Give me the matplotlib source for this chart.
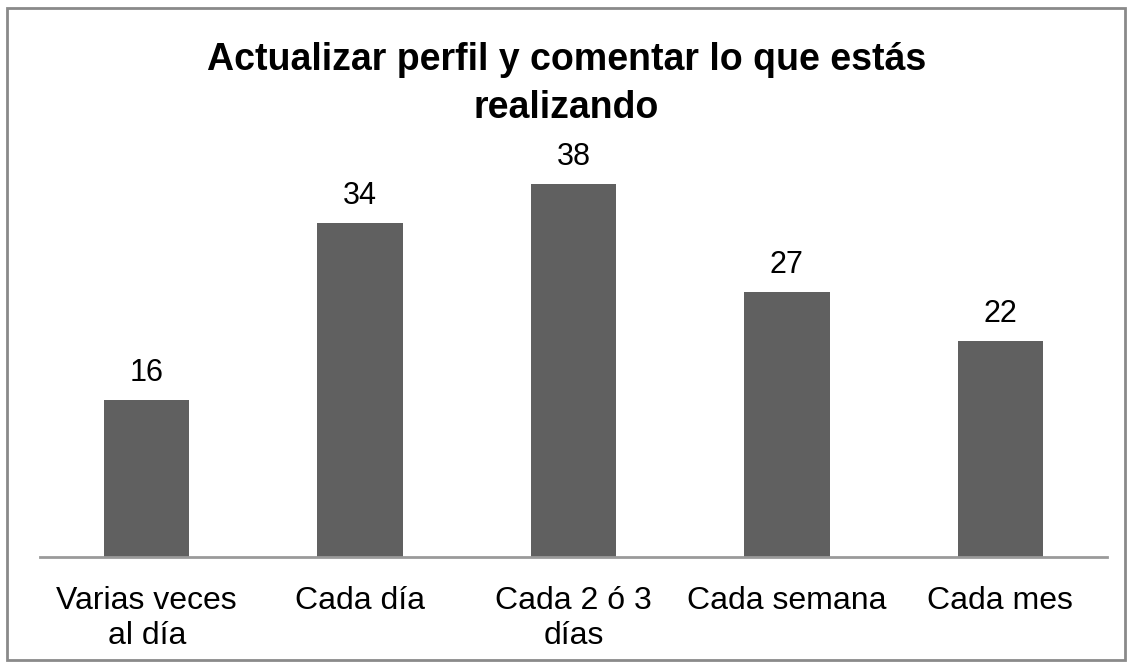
import matplotlib
matplotlib.use("Agg")
import matplotlib.pyplot as plt
from matplotlib.patches import Rectangle

plt.rcParams['font.family'] = ['Liberation Sans', 'DejaVu Sans']

# data
categories = ["Varias veces\nal día", "Cada día", "Cada 2 ó 3\ndías", "Cada semana", "Cada mes"]
values = [16, 34, 38, 27, 22]
title = "Actualizar perfil y comentar lo que estás\nrealizando"

fig = plt.figure(figsize=(11.33, 6.66), dpi=100)
ax = fig.add_axes([40 / 1133, 1 - 557 / 666, 1067 / 1133, 393 / 666])

x = range(len(values))
bars = ax.bar(x, values, width=0.4, color="#606060")

# value labels above bars
for b, v in zip(bars, values):
    ax.text(b.get_x() + b.get_width() / 2, v + 1.2, str(v),
            ha="center", va="bottom", fontsize=22, color="black")

ax.set_xlim(-0.5, len(values) - 0.5)
ax.set_ylim(0, 40)
ax.set_xticks(list(x))
ax.set_xticklabels(categories, fontsize=23, linespacing=1.2)
ax.tick_params(axis="x", length=0, pad=21)
ax.set_yticks([])

for s in ["top", "right", "left"]:
    ax.spines[s].set_visible(False)
ax.spines["bottom"].set_color("#9a9a9a")
ax.spines["bottom"].set_linewidth(2)

fig.text(0.5, 1 - 84 / 666, title, ha="center", va="center",
         fontsize=27, fontweight="bold", linespacing=1.4)

# outer chart border
fig.patches.append(Rectangle((7 / 1133, 6 / 666), 1118 / 1133, 652 / 666,
                             transform=fig.transFigure, fill=False,
                             edgecolor="#8a8a8a", linewidth=2))

fig.savefig("out.png", dpi=100)
